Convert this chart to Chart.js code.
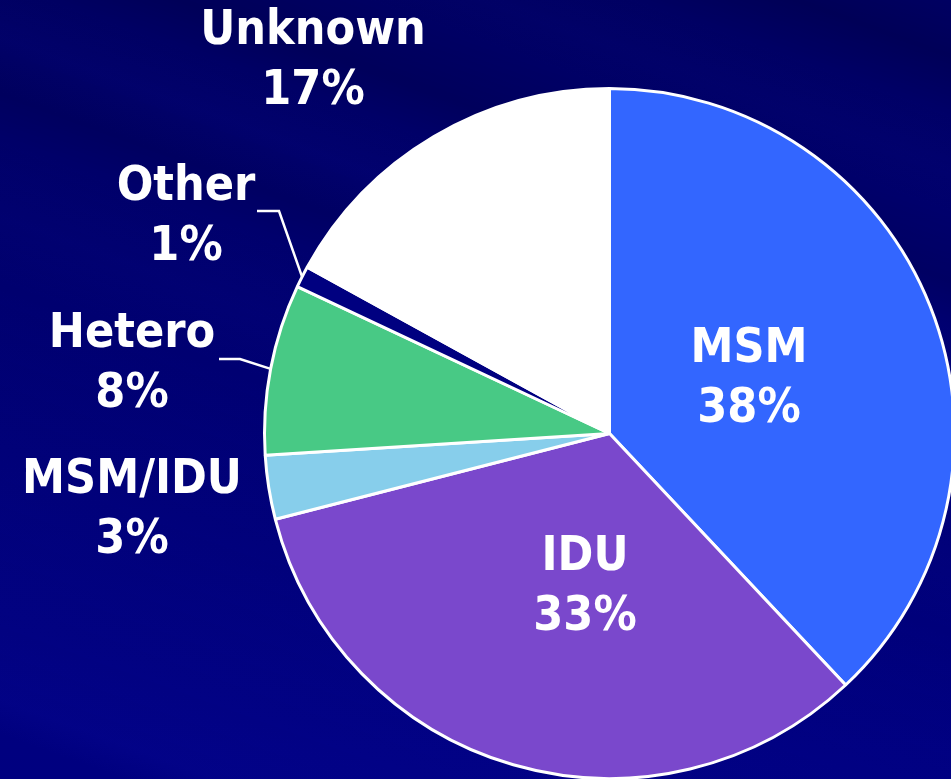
<!DOCTYPE html>
<html>
<head>
<meta charset="utf-8">
<title>Exposure category</title>
<script src="https://cdn.jsdelivr.net/npm/chart.js@4.4.1/dist/chart.umd.min.js"></script>
<style>
	html, body {
		margin: 0;
		padding: 0;
		width: 951px;
		height: 779px;
		overflow: hidden;
	}
	body {
		background:
			linear-gradient(200deg,
				rgba(0,0,0,0) 0%, rgba(0,0,0,0.12) 5%, rgba(0,0,0,0) 10%,
				rgba(20,20,170,0.06) 15%, rgba(0,0,0,0) 19%,
				rgba(0,0,0,0.10) 25%, rgba(0,0,0,0) 29%,
				rgba(20,20,170,0.07) 34%, rgba(0,0,0,0.08) 39%, rgba(0,0,0,0) 43%,
				rgba(20,20,170,0.06) 50%, rgba(0,0,0,0) 56%,
				rgba(20,20,190,0.12) 93%, rgba(0,0,0,0) 96%),
			linear-gradient(180deg, #000062 0%, #000070 40%, #000080 100%);
	}
	#wrap {
		position: absolute;
		left: 0;
		top: 0;
		width: 960px;
		height: 790px;
	}
</style>
</head>
<body>
<div id="wrap"><canvas id="pie" width="960" height="790"></canvas></div>
<script>
	'use strict';

	// data, clockwise from 12 o'clock
	const categories	= ['MSM', 'IDU', 'MSM/IDU', 'Hetero', 'Other', 'Unknown'];
	const percents		= [38, 33, 3, 8, 1, 17];
	const sliceColors	= ['#3366ff', '#7a48cc', '#87ceeb', '#48c985', '#000080', '#ffffff'];

	// where each two-line label sits (centre x, first baseline y)
	const labelPos = [
		{x: 749, y: 362},
		{x: 585, y: 570},
		{x: 132, y: 493},
		{x: 132, y: 347},
		{x: 186, y: 200},
		{x: 313, y: 44}
	];

	// leader lines for the small outside slices
	const leaders = {
		3: [[219, 359], [240, 359]],
		4: [[257, 211], [279, 211]]
	};

	const FONT = "bold 48px 'DejaVu Sans Condensed', 'DejaVu Sans', sans-serif";

	let labelPlugin = {
		id: 'pieLabels',
		afterDatasetsDraw: function (chart) {
			let ctx		= chart.ctx;
			let arcs	= chart.getDatasetMeta(0).data;

			ctx.save();
			ctx.strokeStyle = '#ffffff';
			ctx.lineWidth = 2.5;
			Object.keys(leaders).forEach(function (k) {
				let arc	= arcs[k];
				let pts	= leaders[k];
				let mid	= (arc.startAngle + arc.endAngle) / 2;
				let r	= arc.outerRadius;
				ctx.beginPath();
				ctx.moveTo(pts[0][0], pts[0][1]);
				ctx.lineTo(pts[1][0], pts[1][1]);
				ctx.lineTo(arc.x + Math.cos(mid) * r, arc.y + Math.sin(mid) * r);
				ctx.stroke();
			});

			ctx.fillStyle = '#ffffff';
			ctx.font = FONT;
			ctx.textAlign = 'center';
			ctx.textBaseline = 'alphabetic';
			categories.forEach(function (name, i) {
				let p = labelPos[i];
				ctx.fillText(name, p.x, p.y);
				ctx.fillText(percents[i] + '%', p.x, p.y + 60);
			});
			ctx.restore();
		}
	};

	new Chart(document.getElementById('pie'), {
		type: 'pie',
		data: {
			labels: categories,
			datasets: [{
				data: percents,
				backgroundColor: sliceColors,
				borderColor: '#ffffff',
				borderWidth: 3,
				hoverOffset: 0
			}]
		},
		options: {
			responsive: false,
			animation: false,
			layout: {
				padding: {left: 263, top: 87, right: 4, bottom: 10}
			},
			plugins: {
				legend: {display: false},
				tooltip: {enabled: false}
			}
		},
		plugins: [labelPlugin]
	});
</script>
</body>
</html>
